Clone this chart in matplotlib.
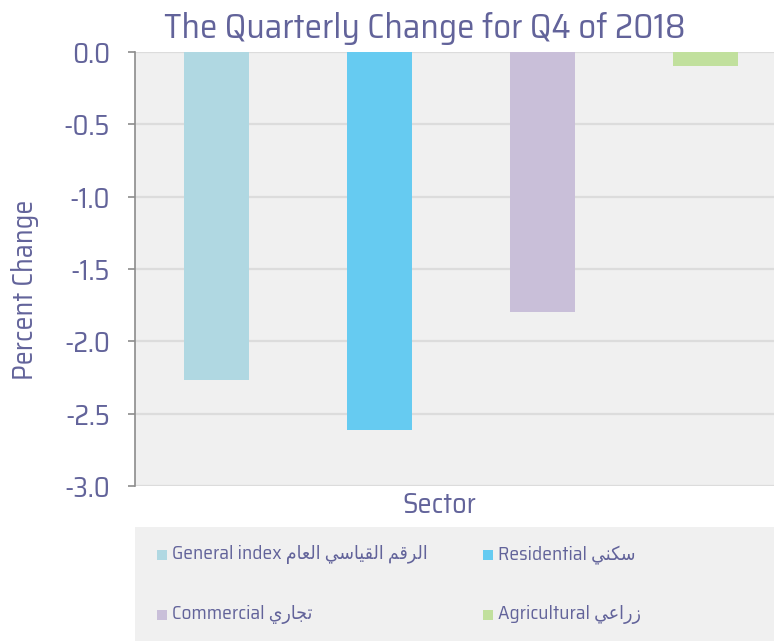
import matplotlib
matplotlib.use("Agg")
import matplotlib.pyplot as plt
from matplotlib import font_manager
from matplotlib.patches import Rectangle

# ---- data ----
categories = ["General index", "Residential", "Commercial", "Agricultural"]
# Arabic labels in visual (pre-shaped) order
arabic = [
    "\uFEE1\uFE8E\uFECC\uFEDF\uFE8D \uFEF2\uFEB3\uFE8E\uFEF4\uFED8\uFEDF\uFE8D \uFEE2\uFED7\uFEAE\uFEDF\uFE8D",
    "\uFEF2\uFEE8\uFEDC\uFEB3",
    "\uFEF1\uFEAD\uFE8E\uFEA0\uFE97",
    "\uFEF2\uFECB\uFE8D\uFEAD\uFEAF",
]
values = [-2.27, -2.61, -1.80, -0.10]
colors = ["#b0d8e2", "#66cbf1", "#c9bfd9", "#c1e09d"]
yticks = [0.0, -0.5, -1.0, -1.5, -2.0, -2.5, -3.0]
title = "The Quarterly Change for Q4 of 2018"
ylabel = "Percent Change"
xlabel = "Sector"

names = {f.name for f in font_manager.fontManager.ttflist}
main = next((n for n in ["Saira SemiCondensed", "Saira Semi Condensed", "Saira Condensed", "DejaVu Sans"]
             if n in names), "DejaVu Sans")
fam = [main, "DejaVu Sans"]
plt.rcParams["font.family"] = fam
plt.rcParams["axes.unicode_minus"] = False

txt = "#62639a"
W, H = 774, 641
fig = plt.figure(figsize=(W / 100, H / 100), dpi=100)
renderer = fig.canvas.get_renderer()


def fit(t, target, rotated=False):
    bb = t.get_window_extent(renderer)
    cur = bb.height if rotated else bb.width
    t.set_fontsize(t.get_fontsize() * target / cur)


ax = fig.add_axes([135 / W, 1 - 486 / H, (787 - 135) / W, (486 - 52) / H])
ax.set_facecolor("#f0f0f0")
x = list(range(len(categories)))
ax.bar(x, values, width=0.4, color=colors, zorder=3)
ax.set_xlim(-0.5, 3.5)
ax.set_ylim(-3.0, 0.0)
ax.set_yticks(yticks)

probe = fig.text(0, 0, "-0.5", fontsize=17)
fit(probe, 46)
tick_fs = probe.get_fontsize()
probe.remove()

ax.set_yticklabels([f"{v:.1f}" for v in yticks], color=txt, fontsize=tick_fs)
ax.set_xticks([])
ax.yaxis.grid(True, color="#dcdcdc", linewidth=1.6, zorder=0)
ax.set_axisbelow(True)
for s in ["top", "right", "bottom"]:
    ax.spines[s].set_visible(False)
ax.spines["left"].set_color("#8c8c8c")
ax.spines["left"].set_linewidth(1.2)
ax.tick_params(axis="y", length=5, color="#8c8c8c", width=1.2, pad=13)

# title
tt = fig.text(424.5 / W, 1 - 38 / H, title, ha="center", va="baseline", color=txt, fontsize=24)
fit(tt, 523)
# y label
yl = fig.text(25 / W, 1 - 290 / H, ylabel, ha="center", va="center", rotation=90, color=txt, fontsize=17)
fit(yl, 180, rotated=True)
# x label
xl = fig.text(439 / W, 1 - 505 / H, xlabel, ha="center", va="center", color=txt, fontsize=17)
fit(xl, 74)

# legend area
fig.patches.append(Rectangle((135 / W, 0), (W - 135) / W, (641 - 527) / H,
                             transform=fig.transFigure, facecolor="#f0f0f0",
                             edgecolor="none", zorder=0))
probe = fig.text(0, 0, categories[0], fontsize=12)
fit(probe, 109)
leg_fs = probe.get_fontsize()
probe.remove()
pos = [(157, 555), (483, 555), (157, 615), (483, 615)]
for (px, py), c, en, ar in zip(pos, colors, categories, arabic):
    fig.patches.append(Rectangle((px / W, 1 - (py + 5) / H), 10 / W, 10 / H,
                                 transform=fig.transFigure, facecolor=c,
                                 edgecolor="none", zorder=2))
    fig.text((px + 15) / W, 1 - py / H, en + " " + ar, ha="left", va="center",
             color=txt, fontsize=leg_fs, family=fam, stretch="condensed")

fig.savefig("out.png", dpi=100)
